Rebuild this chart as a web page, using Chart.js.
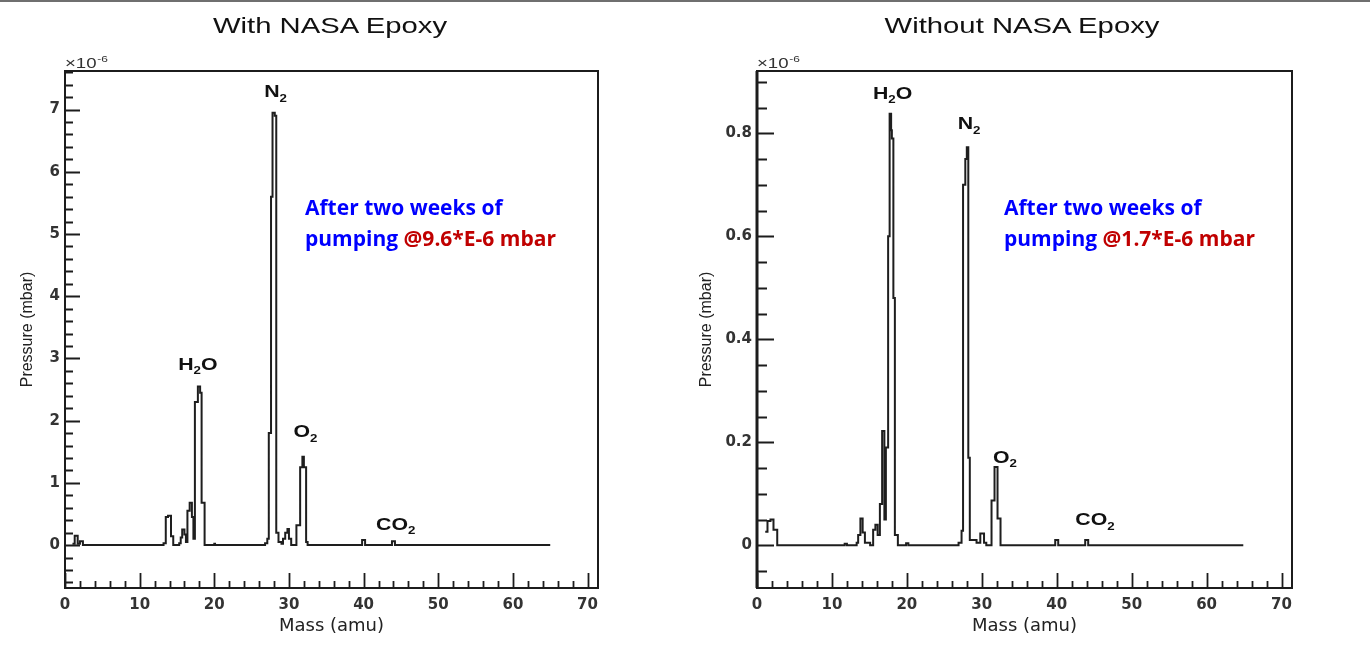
<!DOCTYPE html>
<html>
<head>
<meta charset="utf-8">
<script src="https://cdn.jsdelivr.net/npm/chart.js@4.4.0/dist/chart.umd.min.js"></script>
<style>
  html, body { margin: 0; padding: 0; background: #fff; }
  body { width: 1370px; height: 658px; position: relative; overflow: hidden; }
  .topline { position: absolute; left: 0; top: 0; width: 1370px; height: 2px; background: #6f6f6f; }
  canvas { position: absolute; top: 0; }
  .title { position: absolute; top: 13px; width: 660px; text-align: center; font: 22px "Liberation Sans", Arial, sans-serif; color: #111; transform: scaleX(1.33); transform-origin: center; }
  .note { position: absolute; top: 192px; font: bold 21px "Open Sans", Lato, sans-serif; line-height: 31px; color: #0000ff; white-space: nowrap; }
  .note span { color: #c00000; }
</style>
</head>
<body>
<div class="topline"></div>
<canvas id="withEpoxy" width="685" height="658" style="left:0"></canvas>
<canvas id="withoutEpoxy" width="685" height="658" style="left:685px"></canvas>
<div class="title" style="left:0">With NASA Epoxy</div>
<div class="title" style="left:692px">Without NASA Epoxy</div>
<div class="note" style="left:305px">After two weeks of<br>pumping <span>@9.6*E-6 mbar</span></div>
<div class="note" style="left:1004px">After two weeks of<br>pumping <span>@1.7*E-6 mbar</span></div>

<script>
// mass axis (amu)
const massTicks = [0, 10, 20, 30, 40, 50, 60, 70];

// With NASA epoxy, pressure in units of 1e-6 mbar (step = value held until next mass)
const massWith = [1.0, 1.3, 1.7, 2.0, 2.4, 13.2, 13.5, 13.8, 14.2, 14.5, 15.3, 15.5, 15.7, 16.0, 16.2,
  16.4, 16.7, 17.0, 17.2, 17.4, 17.8, 18.1, 18.3, 18.7, 20.0, 20.1, 26.8, 27.1, 27.3, 27.6, 27.8,
  28.1, 28.3, 28.6, 29.0, 29.2, 29.5, 29.8, 30.0, 30.3, 31.0, 31.5, 31.8, 32.0, 32.3, 32.5,
  39.8, 40.2, 43.8, 44.2, 65.0];
const pressWith = [0.02, 0.15, 0.02, 0.06, 0.0, 0.03, 0.45, 0.47, 0.14, 0.0, 0.03, 0.12, 0.25, 0.17, 0.05,
  0.55, 0.68, 0.45, 0.1, 2.3, 2.55, 2.45, 0.68, 0.0, 0.02, 0.0, 0.03, 0.1, 1.8, 5.6, 6.95,
  6.9, 0.2, 0.05, 0.02, 0.1, 0.2, 0.26, 0.1, 0.0, 0.32, 1.25, 1.42, 1.25, 0.05, 0.0,
  0.08, 0.0, 0.06, 0.0, 0.0];
const pressTicksWith = [0, 1, 2, 3, 4, 5, 6, 7];
const peakNames = ['H2O', 'N2', 'O2', 'CO2'];
const peakMassWith = [17.8, 28.2, 32.2, 44.3];
const peakPressWith = [2.89, 7.27, 1.80, 0.32];

// Without NASA epoxy
const massWithout = [1.1, 1.4, 1.8, 2.2, 2.7, 11.7, 12.0, 13.3, 13.5, 13.8, 14.1, 14.4, 15.1, 15.5, 15.8,
  16.1, 16.4, 16.7, 17.0, 17.2, 17.5, 17.7, 17.9, 18.0, 18.2, 18.4, 18.8, 19.9, 20.2, 26.9, 27.3,
  27.5, 27.8, 28.0, 28.2, 28.4, 29.3, 29.8, 30.3, 30.6, 31.3, 31.7, 32.1, 32.5, 39.8, 40.2,
  43.8, 44.2, 64.9];
const pressWithout = [0.026, 0.047, 0.05, 0.03, 0.0, 0.003, 0.0, 0.005, 0.02, 0.052, 0.025, 0.005, 0.0, 0.03, 0.04,
  0.02, 0.08, 0.222, 0.05, 0.19, 0.6, 0.838, 0.806, 0.79, 0.48, 0.02, 0.0, 0.004, 0.0, 0.005, 0.028,
  0.7, 0.75, 0.773, 0.17, 0.01, 0.005, 0.023, 0.005, 0.0, 0.087, 0.152, 0.052, 0.0, 0.01, 0.0,
  0.01, 0.0, 0.0];
const pressTicksWithout = [0, 0.2, 0.4, 0.6, 0.8];
const peakMassWithout = [18.1, 28.3, 33.1, 45.1];
const peakPressWithout = [0.876, 0.816, 0.169, 0.047];

const STRETCH = 1.33;

function drawFormula(ctx, txt, cx, cy, size) {
  const big = 'bold ' + size + 'px "Liberation Sans", Arial, sans-serif';
  const small = 'bold ' + Math.round(size * 0.6) + 'px "Liberation Sans", Arial, sans-serif';
  const chars = txt.split('');
  let w = 0;
  chars.forEach(c => { ctx.font = /\d/.test(c) ? small : big; w += ctx.measureText(c).width; });
  ctx.save();
  ctx.translate(cx, cy);
  ctx.scale(STRETCH, 1);
  ctx.textBaseline = 'middle';
  ctx.textAlign = 'left';
  let px = -w / 2;
  chars.forEach(c => {
    const sub = /\d/.test(c);
    ctx.font = sub ? small : big;
    ctx.fillText(c, px, sub ? size * 0.38 : 0);
    px += ctx.measureText(c).width;
  });
  ctx.restore();
}

const framePlugin = {
  id: 'frame',
  afterDraw(chart, args, o) {
    const {ctx, chartArea: a, scales: {x, y}} = chart;
    ctx.save();
    ctx.strokeStyle = '#1c1c1c';
    ctx.lineWidth = 2;
    ctx.strokeRect(a.left, a.top, a.right - a.left, a.bottom - a.top);
    ctx.lineWidth = o.leftWidth;
    ctx.beginPath(); ctx.moveTo(a.left, a.top); ctx.lineTo(a.left, a.bottom); ctx.stroke();
    // inward ticks
    ctx.lineWidth = 1.8;
    ctx.beginPath();
    for (let i = Math.ceil(x.min / o.xMinor); i * o.xMinor <= x.max; i++) {
      const v = i * o.xMinor;
      const major = Math.abs(v / 10 - Math.round(v / 10)) < 1e-6;
      const px = Math.round(x.getPixelForValue(v)) + 0.5;
      ctx.moveTo(px, a.bottom);
      ctx.lineTo(px, a.bottom - (major ? 15 : 7));
    }
    for (let i = Math.ceil(y.min / o.yMinor); i * o.yMinor <= y.max; i++) {
      const v = i * o.yMinor;
      const major = Math.abs(v / o.yMajor - Math.round(v / o.yMajor)) < 1e-6;
      const py = Math.round(y.getPixelForValue(v)) + 0.5;
      ctx.moveTo(a.left, py);
      ctx.lineTo(a.left + (major ? o.yLen[0] : o.yLen[1]), py);
    }
    ctx.stroke();
    // exponent
    ctx.fillStyle = '#333';
    ctx.save();
    ctx.translate(a.left, a.top - 3);
    ctx.scale(STRETCH, 1);
    ctx.font = '14px "Liberation Sans", Arial, sans-serif';
    ctx.textBaseline = 'alphabetic';
    ctx.fillText('\u00d710', 0, 0);
    const w = ctx.measureText('\u00d710').width;
    ctx.font = '9px "Liberation Sans", Arial, sans-serif';
    ctx.fillText('-6', w + 0.5, -6);
    ctx.restore();
    // peak labels
    ctx.fillStyle = '#111';
    o.names.forEach((n, i) => {
      drawFormula(ctx, n, x.getPixelForValue(o.mass[i]), y.getPixelForValue(o.press[i]), 16);
    });
    ctx.restore();
  }
};

function makeChart(id, mass, press, yTicks, yMin, yMax, cfg) {
  return new Chart(document.getElementById(id), {
    type: 'line',
    data: {
      datasets: [{
        data: mass.map((m, i) => ({x: m, y: press[i]})),
        stepped: true,
        borderColor: '#1e1e1e',
        borderWidth: 2,
        pointRadius: 0,
        fill: false
      }]
    },
    options: {
      responsive: false,
      animation: false,
      layout: {padding: {top: 71, right: cfg.right, left: 0, bottom: 0}},
      plugins: {
        legend: {display: false},
        tooltip: {enabled: false},
        frame: cfg.frame
      },
      scales: {
        x: {
          type: 'linear', min: 0, max: 71.4,
          afterBuildTicks: s => { s.ticks = massTicks.map(v => ({value: v})); },
          afterFit: s => { s.height = 70; },
          grid: {display: false, drawTicks: false},
          border: {display: false},
          ticks: {padding: 8, color: '#333', maxRotation: 0, autoSkip: false,
            font: {family: 'DejaVu Sans', weight: 'bold', size: 15}},
          title: {display: true, text: 'Mass (amu)', color: '#222', padding: {bottom: 21},
            font: {family: 'DejaVu Sans', size: 18}}
        },
        y: {
          type: 'linear', min: yMin, max: yMax,
          afterBuildTicks: s => { s.ticks = yTicks.map(v => ({value: v})); },
          afterFit: s => { s.width = cfg.yWidth; },
          grid: {display: false, drawTicks: false},
          border: {display: false},
          ticks: {padding: 5, color: '#333', autoSkip: false,
            font: {family: 'DejaVu Sans', weight: 'bold', size: 15}},
          title: {display: true, text: 'Pressure (mbar)', color: '#222', padding: {top: cfg.titlePad},
            font: {family: 'Liberation Sans', size: 16}}
        }
      }
    },
    plugins: [framePlugin]
  });
}

makeChart('withEpoxy', massWith, pressWith, pressTicksWith, -0.69, 7.62, {
  right: 87, yWidth: 65, titlePad: 18,
  frame: {xMinor: 2, yMinor: 0.2, yMajor: 1, yLen: [15, 8], leftWidth: 2,
    names: peakNames, mass: peakMassWith, press: peakPressWith}
});
makeChart('withoutEpoxy', massWithout, pressWithout, pressTicksWithout, -0.083, 0.921, {
  right: 78, yWidth: 72, titlePad: 12,
  frame: {xMinor: 2, yMinor: 0.05, yMajor: 0.2, yLen: [17, 10], leftWidth: 3,
    names: peakNames, mass: peakMassWithout, press: peakPressWithout}
});
</script>
</body>
</html>
